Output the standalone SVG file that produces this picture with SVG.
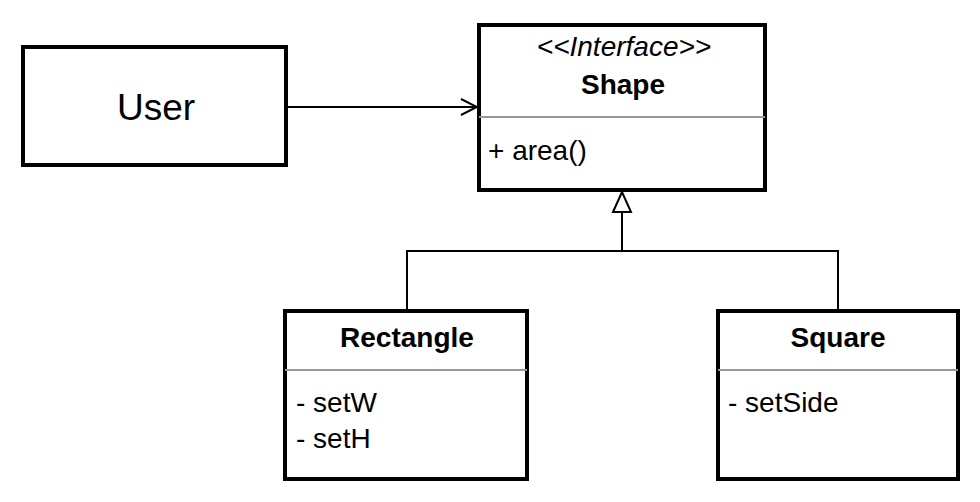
<svg xmlns="http://www.w3.org/2000/svg" width="980" height="502" viewBox="0 0 980 502">
  <style>
    .box { fill: #ffffff; stroke: #000000; stroke-width: 4; }
    .div { stroke: #999999; stroke-width: 2; }
    .edge { fill: none; stroke: #000000; stroke-width: 2; }
    text { font-family: "Liberation Sans", Arial, Helvetica, sans-serif; fill: #000000; }
    .title { font-weight: bold; font-size: 28px; text-anchor: middle; }
    .member { font-size: 28px; }
    .stereo { font-style: italic; font-size: 28px; text-anchor: middle; }
  </style>
  <defs>
    <marker id="open" viewBox="0 0 20 20" refX="18" refY="10" markerWidth="20" markerHeight="20" markerUnits="userSpaceOnUse" orient="auto">
      <path d="M2,2 L18,10 L2,18" fill="none" stroke="#000" stroke-width="2"/>
    </marker>
    <marker id="inherit" viewBox="0 0 24 24" refX="22" refY="12" markerWidth="24" markerHeight="24" markerUnits="userSpaceOnUse" orient="auto">
      <path d="M2,3 L22,12 L2,21 Z" fill="#fff" stroke="#000" stroke-width="2"/>
    </marker>
  </defs>

  <!-- connectors -->
  <g id="connectors">
    <path class="edge" d="M288,107 L477,107" marker-end="url(#open)"/>
    <path class="edge" d="M407,311 L407,251 L838,251 L838,311"/>
    <path class="edge" d="M622,251 L622,192" marker-end="url(#inherit)"/>
  </g>

  <!-- User -->
  <g id="user">
    <rect class="box" x="23" y="47" width="263" height="118"/>
    <text x="156" y="120" font-size="37" text-anchor="middle">User</text>
  </g>

  <!-- Shape interface -->
  <g id="shape">
    <rect class="box" x="479" y="25" width="286" height="165"/>
    <line class="div" x1="479" y1="117" x2="765" y2="117"/>
    <text class="stereo" x="624" y="56">&lt;&lt;Interface&gt;&gt;</text>
    <text class="title" x="623" y="94">Shape</text>
    <text class="member" x="488" y="160">+ area()</text>
  </g>

  <!-- Rectangle -->
  <g id="rectangle">
    <rect class="box" x="285" y="311" width="242" height="168"/>
    <line class="div" x1="285" y1="370" x2="527" y2="370"/>
    <text class="title" x="407" y="347">Rectangle</text>
    <text class="member" x="296" y="412">- setW</text>
    <text class="member" x="296" y="448">- setH</text>
  </g>

  <!-- Square -->
  <g id="square">
    <rect class="box" x="718" y="311" width="240" height="168"/>
    <line class="div" x1="718" y1="370" x2="958" y2="370"/>
    <text class="title" x="838" y="347">Square</text>
    <text class="member" x="728" y="412">- setSide</text>
  </g>
</svg>
